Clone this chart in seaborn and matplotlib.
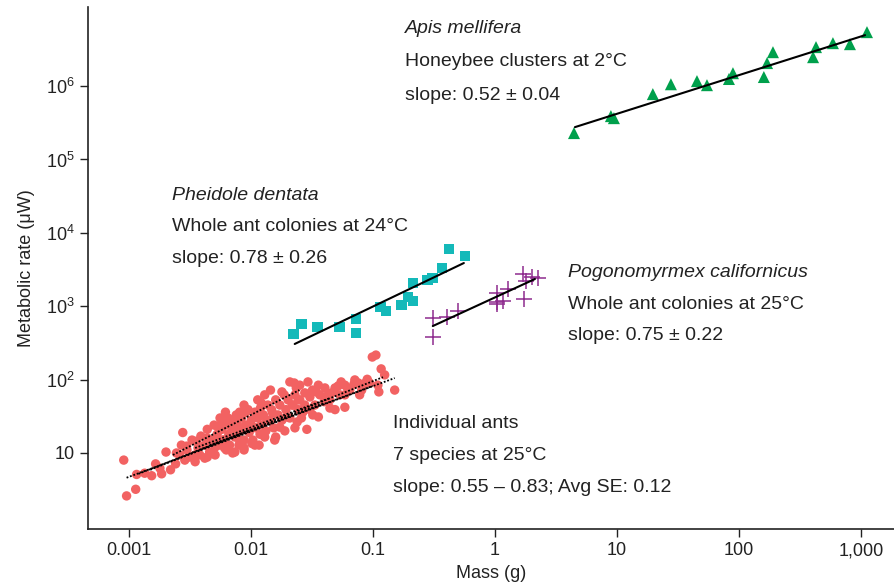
import numpy as np
import pandas as pd
import matplotlib
matplotlib.use("Agg")
import matplotlib.pyplot as plt
import seaborn as sns

# ---- data (mass in g, metabolic rate in uW) ----
ant_mass = [0.00091, 0.00096, 0.00114, 0.00116, 0.00135, 0.00154, 0.00166, 0.00186,
            0.00202, 0.00242, 0.00277, 0.00246, 0.00298, 0.00316, 0.00361, 0.00382,
            0.0044, 0.0044, 0.0051, 0.0054, 0.0058, 0.0059, 0.0063, 0.0071, 0.0074,
            0.0081, 0.0088, 0.0091, 0.0102, 0.0104, 0.0119, 0.0122, 0.0135, 0.0145,
            0.0151, 0.016, 0.0173, 0.018, 0.0196, 0.0222, 0.0227, 0.024, 0.0245,
            0.0267, 0.0277, 0.0294, 0.0288, 0.0322, 0.0344, 0.0358, 0.040, 0.046,
            0.049, 0.052, 0.059, 0.059, 0.070, 0.086, 0.090, 0.099, 0.106, 0.11,
            0.117, 0.125, 0.112, 0.151,
            0.00262, 0.0027, 0.00288, 0.003, 0.0033, 0.0035, 0.0037, 0.0039, 0.0042,
            0.0044, 0.0046, 0.0048, 0.005, 0.0053, 0.0055, 0.0056, 0.0058, 0.006,
            0.0062, 0.0065, 0.0066, 0.0067, 0.007, 0.0071, 0.0074, 0.0076, 0.0078,
            0.008, 0.0082, 0.0084, 0.0088, 0.0091, 0.0095, 0.0097, 0.0101, 0.0104,
            0.0108, 0.0110, 0.0114, 0.0117, 0.012, 0.0122, 0.0127, 0.0133, 0.0138,
            0.0143, 0.0148, 0.0154, 0.016, 0.0167, 0.0173, 0.018, 0.0188, 0.0194,
            0.0202, 0.0209, 0.0218, 0.023, 0.0245, 0.0252, 0.026, 0.0277, 0.0305,
            0.0335, 0.0368, 0.0405, 0.0445, 0.0537, 0.0648, 0.0712, 0.078, 0.094,
            0.0209, 0.0236, 0.0252, 0.032, 0.0358, 0.043, 0.049, 0.055, 0.062,
            0.076, 0.081, 0.0445, 0.059, 0.0305, 0.013, 0.0114, 0.0088, 0.0081,
            0.0065, 0.0054, 0.0061, 0.0074, 0.0088, 0.0108, 0.013, 0.0157, 0.019,
            0.023, 0.0051, 0.0042, 0.0035, 0.0022, 0.0018]
ant_rate = [8.0, 2.6, 3.2, 5.1, 5.3, 4.9, 7.1, 5.2,
            10.3, 7.1, 19, 10, 12.4, 8.8, 14.5, 9.4,
            16, 8.8, 12, 22.5, 26, 15, 11, 10, 26,
            15, 11, 36, 13.5, 22.5, 18, 48, 28, 72,
            35, 16.5, 22.5, 68, 31, 45, 90, 26.5, 53,
            36, 66, 93, 21, 33, 68, 31, 50, 66,
            39, 82, 84, 42, 87, 89, 101, 203, 216, 84,
            140, 116, 68, 72,
            9.4, 12.8, 8.0, 11, 15, 7.6, 11.7, 17, 12.8,
            21, 10.3, 15, 24, 18, 12.8, 30, 21, 15,
            36, 24, 18, 12.8, 28, 21, 16.5, 33, 24,
            12.8, 20, 30, 15, 24, 39, 19, 28, 15,
            36, 22, 30, 12.8, 41, 24, 33, 20, 45,
            28, 39, 22, 53, 33, 45, 28, 62, 39,
            53, 30, 45, 62, 39, 53, 30, 45, 58,
            45, 62, 77, 53, 62, 72, 99, 62, 90,
            93, 77, 84, 72, 84, 62, 77, 93, 77,
            90, 72, 41, 62, 39, 62, 53, 45, 36,
            30, 15, 11.7, 10.3, 11.7, 12.8, 16.5, 15, 20,
            22, 9.4, 8.5, 9.4, 5.9, 6.2]

# seven per-species fits (start/end of each dotted line)
ant_fit_mass = [(0.00096, 0.151), (0.0023, 0.025), (0.0015, 0.121), (0.0035, 0.0445),
                (0.0038, 0.100), (0.0046, 0.040), (0.0012, 0.0098)]
ant_fit_rate = [(4.6, 105), (9.4, 72), (5.9, 108), (11.7, 56),
                (11.0, 82), (12.8, 48), (5.2, 20.6)]

pheidole_mass = [0.0225, 0.0262, 0.0354, 0.0537, 0.0727, 0.0727, 0.116, 0.128, 0.173,
                 0.194, 0.213, 0.213, 0.282, 0.310, 0.368, 0.420, 0.568]
pheidole_rate = [418, 571, 521, 521, 670, 431, 975, 861, 1038,
                 1333, 1178, 2070, 2275, 2420, 3311, 6010, 4830]
pheidole_fit_mass = [0.0229, 0.557]
pheidole_fit_rate = [306, 3880]

pogo_mass = [0.310, 0.310, 0.404, 0.498, 1.04, 1.04, 1.04, 1.16, 1.28, 1.70, 1.80,
             1.73, 2.01, 2.25]
pogo_rate = [690, 380, 713, 861, 1514, 1140, 1072, 1178, 1714, 2748, 2204,
             1253, 2500, 2420]
pogo_fit_mass = [0.31, 2.13]
pogo_fit_rate = [537, 2350]

apis_mass = [4.45, 8.93, 9.45, 19.7, 27.7, 45.3, 54.7, 82.8, 89.3, 160, 170, 190,
             405, 428, 589, 812, 1120]
apis_rate = [2.29e5, 3.90e5, 3.66e5, 7.78e5, 1.06e6, 1.17e6, 1.03e6, 1.25e6, 1.50e6,
             1.33e6, 2.06e6, 2.90e6, 2.48e6, 3.40e6, 3.85e6, 3.73e6, 5.44e6]
apis_fit_mass = [4.53, 1080]
apis_fit_rate = [2.76e5, 4.95e6]

x_ticks = [0.001, 0.01, 0.1, 1, 10, 100, 1000]
x_ticklabels = ["0.001", "0.01", "0.1", "1", "10", "100", "1,000"]
y_ticks = [10, 1e2, 1e3, 1e4, 1e5, 1e6]
y_ticklabels = ["10", "$10^2$", "$10^3$", "$10^4$", "$10^5$", "$10^6$"]

RED, TEAL, PURPLE, GREEN = "#f26262", "#14b9b9", "#8e2b8e", "#00a04c"
INK = "#222222"

sns.set_style("ticks")
plt.rcParams["font.family"] = ["Liberation Sans", "DejaVu Sans"]
plt.rcParams["mathtext.fontset"] = "custom"
plt.rcParams["mathtext.rm"] = "Liberation Sans"
plt.rcParams["mathtext.it"] = "Liberation Sans:italic"

fig = plt.figure(figsize=(8.95, 5.85), dpi=100)
ax = fig.add_axes([0.098, 0.0957, 0.902, 0.892])
ax.set_xscale("log")
ax.set_yscale("log")

ants = pd.DataFrame({"mass": ant_mass, "rate": ant_rate})
sns.scatterplot(data=ants, x="mass", y="rate", ax=ax, color=RED, s=46,
                edgecolor="none", marker="o", zorder=2)
for (m0, m1), (r0, r1) in zip(ant_fit_mass, ant_fit_rate):
    ax.plot([m0, m1], [r0, r1], color="black", lw=1.3, ls=(0, (1, 1)), zorder=3)

sns.scatterplot(x=pheidole_mass, y=pheidole_rate, ax=ax, color=TEAL, s=60,
                marker="s", edgecolor="none", zorder=2)
ax.plot(pheidole_fit_mass, pheidole_fit_rate, color="black", lw=1.5, zorder=3)

sns.scatterplot(x=pogo_mass, y=pogo_rate, ax=ax, color=PURPLE, s=130,
                marker="+", linewidth=1.1, zorder=2)
ax.plot(pogo_fit_mass, pogo_fit_rate, color="black", lw=1.5, zorder=3)

sns.scatterplot(x=apis_mass, y=apis_rate, ax=ax, color=GREEN, s=75,
                marker="^", edgecolor="none", zorder=2)
ax.plot(apis_fit_mass, apis_fit_rate, color="black", lw=1.5, zorder=3)

ax.set_xlim(0.000461, 1900)
ax.set_ylim(0.92, 1.19e7)
ax.set_xticks(x_ticks)
ax.set_xticklabels(x_ticklabels)
ax.set_yticks(y_ticks)
ax.set_yticklabels(y_ticklabels)
ax.minorticks_off()
ax.tick_params(axis="both", labelsize=13, colors=INK, length=6, width=1, direction="out")
ax.set_xlabel("Mass (g)", fontsize=13, color=INK)
ax.set_ylabel("Metabolic rate (\u03bcW)", fontsize=13, color=INK, labelpad=8)
sns.despine(ax=ax)
for side in ("left", "bottom"):
    ax.spines[side].set_color(INK)
    ax.spines[side].set_linewidth(1.2)

labels = [
    (0.393, [0.960, 0.895, 0.830], ["Apis mellifera", "Honeybee clusters at 2\u00b0C",
                                    "slope: 0.52 \u00b1 0.04"]),
    (0.104, [0.640, 0.579, 0.519], ["Pheidole dentata", "Whole ant colonies at 24\u00b0C",
                                    "slope: 0.78 \u00b1 0.26"]),
    (0.595, [0.492, 0.431, 0.370], ["Pogonomyrmex californicus",
                                    "Whole ant colonies at 25\u00b0C",
                                    "slope: 0.75 \u00b1 0.22"]),
    (0.378, [0.203, 0.140, 0.080], ["Individual ants", "7 species at 25\u00b0C",
                                    "slope: 0.55 \u2013 0.83; Avg SE: 0.12"]),
]
for i, (x, ys, lines) in enumerate(labels):
    for j, (y, t) in enumerate(zip(ys, lines)):
        style = "italic" if (j == 0 and i < 3) else "normal"
        ax.text(x, y, t, transform=ax.transAxes, fontsize=14, color=INK,
                va="center", ha="left", style=style)

fig.savefig("out.png", dpi=100)
